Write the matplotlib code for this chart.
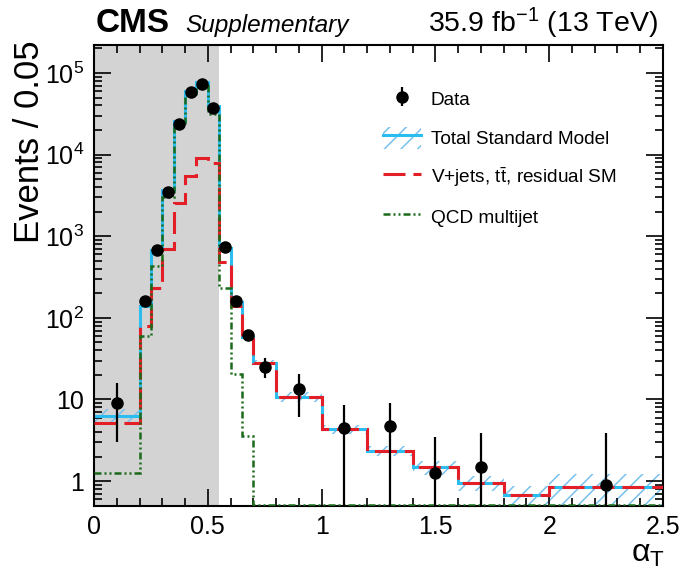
import numpy as np
import matplotlib
matplotlib.use("Agg")
import matplotlib.pyplot as plt
from matplotlib.lines import Line2D
from matplotlib.patches import Patch
from matplotlib.ticker import MultipleLocator, FuncFormatter, LogLocator

plt.rcParams['font.family'] = ['Liberation Sans', 'DejaVu Sans']
plt.rcParams['mathtext.fontset'] = 'custom'
plt.rcParams['mathtext.rm'] = 'Liberation Sans'
plt.rcParams['mathtext.it'] = 'Liberation Sans:italic'
plt.rcParams['mathtext.bf'] = 'Liberation Sans:bold'
plt.rcParams['hatch.linewidth'] = 1.1

# binning in alpha_T
edges = [0, 0.2, 0.25, 0.3, 0.35, 0.4, 0.45, 0.5, 0.55, 0.6, 0.65, 0.7,
         0.8, 1.0, 1.2, 1.4, 1.6, 1.8, 2.0, 2.5]

# events / 0.05
data = [9.1, 163, 670, 3520, 23800, 58800, 72300, 36700, 738, 163, 62,
        25.3, 13.5, 4.43, 4.73, 1.24, 1.50, np.nan, 0.89]
data_err_dn = [6.1, 13, 26, 59, 154, 242, 269, 192, 27, 13, 8,
               7.1, 7.35, 4.43, 4.73, 1.24, 1.50, 0, 0.89]
data_err_up = [6.8, 13, 26, 59, 154, 242, 269, 192, 27, 13, 8,
               6.7, 7.1, 4.2, 4.3, 2.2, 2.4, 0, 3.0]

vjets = [5.1, 80, 235, 697, 2550, 5420, 9100, 7910, 477, 138, 55,
         28.3, 10.8, 4.35, 2.33, 1.47, 0.95, 0.67, 0.85]
qcd = [1.24, 60, 435, 3020, 23000, 54400, 69000, 31200, 231, 20.5, 3.6,
       0, 0, 0, 0, 0, 0, 0, 0]
# relative uncertainty on total SM
tot_unc = [0.2, 0.04, 0.04, 0.03, 0.03, 0.03, 0.03, 0.03, 0.05, 0.06, 0.07,
           0.08, 0.14, 0.12, 0.14, 0.2, 0.2, 0.3, 0.42]

edges = np.array(edges)
vjets = np.array(vjets)
qcd = np.array(qcd)
total = vjets + qcd
unc = np.array(tot_unc)
centers = 0.5 * (edges[1:] + edges[:-1])

ymin, ymax = 0.5, 2.2e5
cyan = '#2cbdf0'
red = '#e41e26'
green = '#1a6a1a'
hatch_col = '#78c0ee'

fig = plt.figure(figsize=(6.85, 5.69), dpi=100)
ax = fig.add_axes([94/685, 1 - 505.7/569, (663 - 94)/685, (505.7 - 45)/569])
ax.set_yscale('log')
ax.set_xlim(0, 2.5)
ax.set_ylim(ymin, ymax)

ax.axvspan(0, 0.55, color='#d3d3d3', lw=0, zorder=0)

lo = np.append(total * (1 - unc), total[-1] * (1 - unc[-1]))
hi = np.append(total * (1 + unc), total[-1] * (1 + unc[-1]))
ax.fill_between(edges, lo, hi, step='post', facecolor='none',
                edgecolor=hatch_col, hatch='//', lw=0, zorder=1)

ax.stairs(total, edges, baseline=None, color=cyan, lw=2.2, zorder=2)
ax.stairs(vjets, edges, baseline=None, color=red, lw=2.2,
          ls=(0, (7.2, 2.6)), zorder=3)
qcd_draw = np.where(qcd > 0, qcd, ymin * 1.01)
ax.stairs(qcd_draw, edges, baseline=None, color=green, lw=1.8,
          ls=(0, (2.8, 1.2, 0.8, 1.2, 0.8, 1.2)), zorder=4)

h_data = ax.errorbar(centers, data, yerr=[data_err_dn, data_err_up], fmt='o',
                     color='black', ms=8, elinewidth=1.6, capsize=0, zorder=5)

ax.xaxis.set_major_locator(MultipleLocator(0.5))
ax.xaxis.set_minor_locator(MultipleLocator(0.1))
ax.xaxis.set_major_formatter(FuncFormatter(lambda v, p: '%g' % v))
ax.yaxis.set_major_locator(LogLocator(base=10))
ax.yaxis.set_minor_locator(LogLocator(base=10, subs=np.arange(2, 10)))


def yfmt(v, p):
    if abs(v - 1) < 1e-6:
        return '1'
    if abs(v - 10) < 1e-6:
        return '10'
    return r'$10^{%d}$' % int(round(np.log10(v)))


ax.yaxis.set_major_formatter(FuncFormatter(yfmt))
ax.yaxis.set_minor_formatter(FuncFormatter(lambda v, p: ''))
ax.tick_params(which='both', direction='in', top=True, right=True, width=1.2,
               labelsize=18)
ax.tick_params(which='major', length=12)
ax.tick_params(which='minor', length=6)
ax.tick_params(axis='y', pad=7)
ax.tick_params(axis='x', pad=7)
for s in ax.spines.values():
    s.set_linewidth(1.5)

h_tot = (Patch(facecolor='none', edgecolor=hatch_col, hatch='//', lw=0),
         Line2D([], [], color=cyan, lw=2.2))
h_vj = Line2D([], [], color=red, lw=2.2, ls=(0, (7.2, 2.6)))
h_qcd = Line2D([], [], color=green, lw=1.8, ls=(0, (2.8, 1.2, 0.8, 1.2, 0.8, 1.2)))
ax.legend([h_data, h_tot, h_vj, h_qcd],
          ['Data', 'Total Standard Model', r'V+jets, t$\bar{\mathrm{t}}$, residual SM',
           'QCD multijet'],
          loc='upper left', bbox_to_anchor=(383/685, 1 - 88/569),
          bbox_transform=fig.transFigure, frameon=False, fontsize=13.7,
          handlelength=2.0, handleheight=1.4, handletextpad=0.5,
          labelspacing=0.88, borderpad=0, borderaxespad=0)

fig.text(96/685, 1 - 32/569, 'CMS', fontsize=24, fontweight='bold',
         ha='left', va='baseline')
fig.text(185/685, 1 - 32/569, 'Supplementary', fontsize=17.6, style='italic',
         ha='left', va='baseline')
fig.text(658/685, 1 - 32/569, r'35.9 fb$^{-1}$ (13 TeV)', fontsize=20.5,
         ha='right', va='baseline')
fig.text(30/685, 1 - 40/569, 'Events / 0.05', fontsize=25, rotation=90,
         ha='center', va='top')
fig.text(665/685, 1 - 562/569, r'α$_{\mathrm{T}}$', fontsize=23,
         ha='right', va='baseline')

fig.savefig('out.png', dpi=100)
